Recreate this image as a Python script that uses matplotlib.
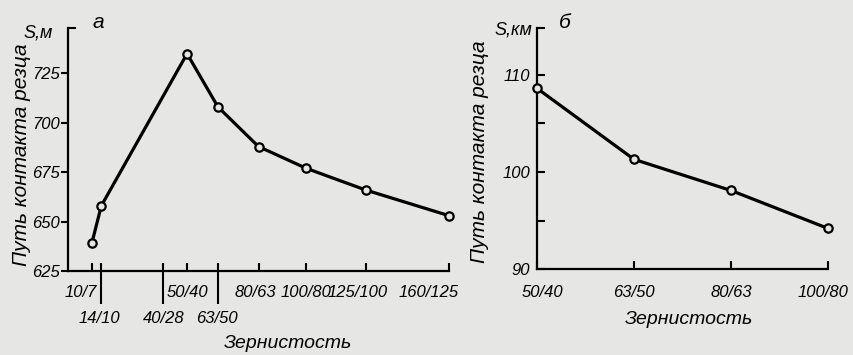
import matplotlib.pyplot as plt
from matplotlib.transforms import ScaledTranslation

# panel a: grain size (first number) vs contact path, m
grain_a = [10, 14, 50, 63, 80, 100, 125, 160]
path_a = [639, 658, 735, 708, 688, 677, 666, 653]
tick_pos_a = [10, 14, 40, 50, 63, 80, 100, 125, 160]
tick_lab_a = ['10/7', '14/10', '40/28', '50/40', '63/50', '80/63', '100/80', '125/100', '160/125']
lower_row_a = ['14/10', '40/28', '63/50']

# panel b: contact path, km
grain_b = ['50/40', '63/50', '80/63', '100/80']
path_b = [108.6, 101.3, 98.1, 94.2]

bg = '#e6e6e4'
plt.rcParams['font.family'] = ['Liberation Sans', 'DejaVu Sans']
plt.rcParams['font.style'] = 'italic'
fs = 12

fig = plt.figure(figsize=(8.54, 3.55), dpi=100, facecolor=bg)
ax1 = fig.add_axes([0.0796, 0.2366, 0.4462, 0.6845], facecolor=bg)
ax2 = fig.add_axes([0.6288, 0.2414, 0.3408, 0.6797], facecolor=bg)

line_kw = dict(color='black', lw=2.3, marker='o', ms=6, mfc=bg, mec='black', mew=1.6,
               clip_on=False, zorder=3)

# ---- panel a
ax1.plot(grain_a, path_a, **line_kw)
ax1.set_xlim(0, 160)
ax1.set_ylim(625, 748)
ax1.set_yticks([625, 650, 675, 700, 725])
ax1.set_yticks([748], minor=True)
ax1.tick_params(axis='y', which='major', direction='out', length=5, width=1.5,
                labelsize=fs, pad=1)
ax1.tick_params(axis='y', which='minor', direction='in', length=6, width=1.5)

ax1.xaxis.remove_overlapping_locs = False
upper = [l if l not in lower_row_a else '' for l in tick_lab_a]
ax1.set_xticks(tick_pos_a, upper)
ax1.set_xticks([p for p, l in zip(tick_pos_a, tick_lab_a) if l in lower_row_a],
               lower_row_a, minor=True)
ax1.tick_params(axis='x', which='major', direction='in', length=6, width=1.5,
                labelsize=fs, pad=10)
ax1.tick_params(axis='x', which='minor', direction='out', length=24, width=1.5,
                labelsize=fs, pad=5)


def nudge(labels, shift):
    # shift tick labels sideways by a few pixels, as in the drawing
    for t in labels:
        dx = shift.get(t.get_text(), 0)
        if dx:
            t.set_transform(t.get_transform() + ScaledTranslation(dx / 100, 0, fig.dpi_scale_trans))


nudge(ax1.get_xticklabels() + ax1.get_xticklabels(minor=True),
      {'10/7': -11, '80/63': -3, '125/100': -8, '160/125': -20, '14/10': -2, '63/50': -1})

# ---- panel b
ax2.plot(range(len(grain_b)), path_b, **line_kw)
ax2.set_xlim(0, 3)
ax2.set_ylim(90, 114.8)
ax2.set_yticks([90, 95, 100, 105, 110], ['90', '', '100', '', '110'])
ax2.set_yticks([114.8], minor=True)
ax2.tick_params(axis='y', which='both', direction='in', length=6, width=1.5,
                labelsize=fs, pad=5)
ax2.set_xticks(range(len(grain_b)), grain_b)
ax2.tick_params(axis='x', direction='in', length=6, width=1.5, labelsize=fs, pad=11)
nudge(ax2.get_xticklabels(), {'50/40': 5, '100/80': -5})

for ax in (ax1, ax2):
    for s in ('top', 'right'):
        ax.spines[s].set_visible(False)
    for s in ('left', 'bottom'):
        ax.spines[s].set_linewidth(1.6)

# labels
fig.text(22 / 854, 1 - 155 / 355, 'Путь контакта резца', rotation=90,
         ha='center', va='center', fontsize=15)
fig.text(480 / 854, 1 - 152 / 355, 'Путь контакта резца', rotation=90,
         ha='center', va='center', fontsize=15)
fig.text(288 / 854, 1 - 343 / 355, 'Зернистость', ha='center', va='center', fontsize=14)
fig.text(689 / 854, 1 - 319 / 355, 'Зернистость', ha='center', va='center', fontsize=14)
fig.text(53 / 854, 1 - 33 / 355, 'S,м', ha='right', va='center', fontsize=13)
fig.text(532 / 854, 1 - 30 / 355, 'S,км', ha='right', va='center', fontsize=13)
fig.text(98 / 854, 1 - 22 / 355, 'а', ha='center', va='center', fontsize=15)
fig.text(565 / 854, 1 - 23 / 355, 'б', ha='center', va='center', fontsize=15)

fig.savefig('out.png', dpi=100, facecolor=bg)
